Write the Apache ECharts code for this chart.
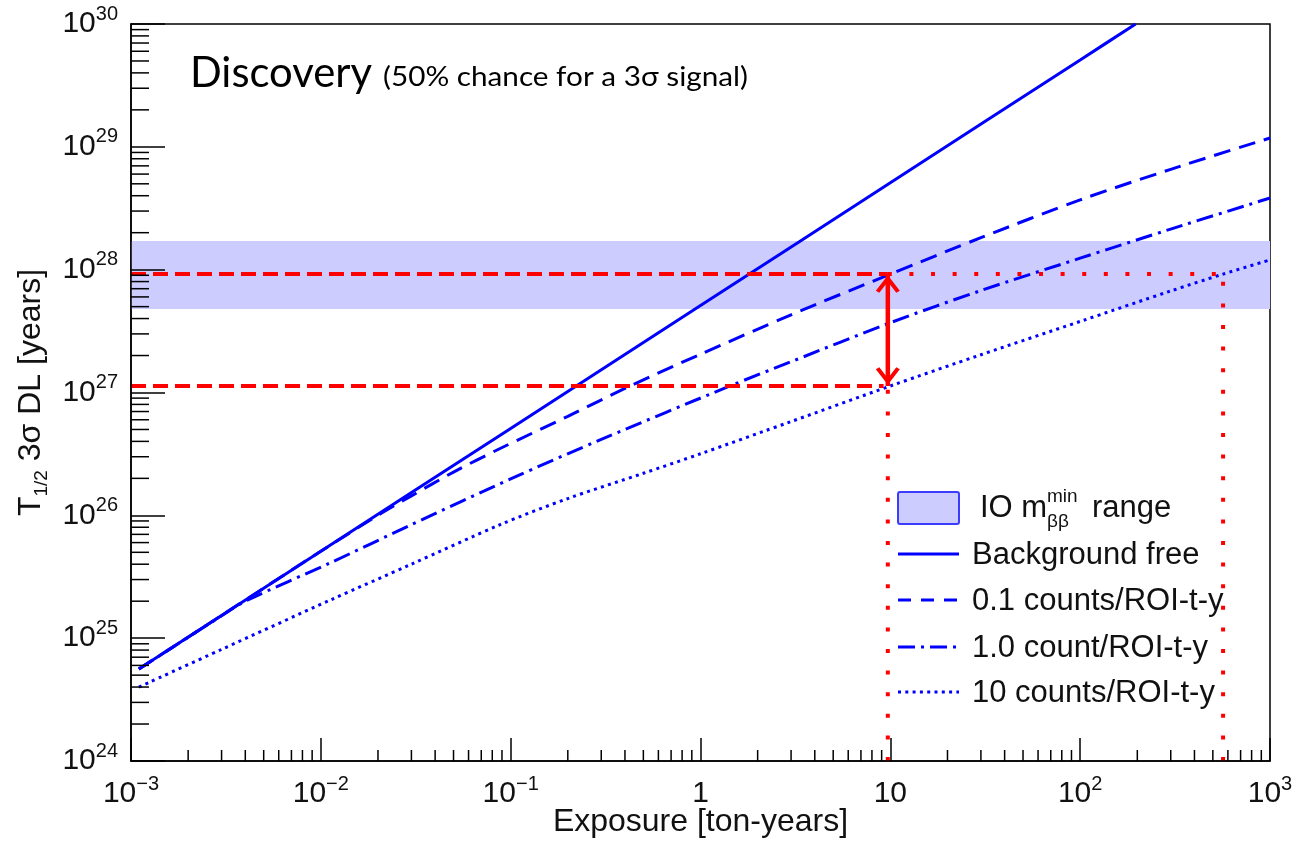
<!DOCTYPE html>
<html><head><meta charset="utf-8">
<script src="https://cdn.jsdelivr.net/npm/echarts@6/dist/echarts.min.js"></script>
<style>html,body{margin:0;padding:0;background:#fff}#c{width:1299px;height:841px}</style>
</head><body><div id="c"></div>
<script>
// ---- axis ticks ----
const xMin = 1e-3, xMax = 1e3, yMin = 1e24, yMax = 1e30;
const xMinorTicks = [];
for (let e = -3; e < 3; e++) for (let k = 2; k <= 9; k++) xMinorTicks.push(k * Math.pow(10, e));
const yMinorTicks = [];
for (let e = 24; e < 30; e++) for (let k = 2; k <= 9; k++) yMinorTicks.push(k * Math.pow(10, e));

// ---- series data ----
const bkgFreeE = [0.0011, 0.01, 0.1, 1, 10, 100, 196];
const bkgFreeT = [5.6e24, 5.1e25, 5.1e26, 5.1e27, 5.1e28, 5.1e29, 1.0e30];

const bkg01E = [0.0011, 0.003, 0.01, 0.02, 0.03, 0.05, 0.088, 0.2, 0.426, 1, 3, 10, 30, 100, 300, 1000];
const bkg01T = [5.6e24, 1.53e25, 5.1e25, 1.0e26, 1.44e26, 2.25e26, 3.5e26, 6.4e26, 1.13e27, 2.05e27, 4.29e27, 9.2e27, 1.82e28, 3.7e28, 6.56e28, 1.18e29];

const bkg1E = [0.0011, 0.003, 0.004, 0.0112, 0.03, 0.1, 0.3, 1.43, 3, 10, 30, 100, 300, 1000];
const bkg1T = [5.6e24, 1.52e25, 2.0e25, 4.1e25, 8.4e25, 1.98e26, 4.15e26, 1.13e27, 1.78e27, 3.7e27, 6.76e27, 1.24e28, 2.14e28, 3.83e28];

const bkg10E = [0.0011, 0.003, 0.0112, 0.03, 0.088, 0.2, 0.5, 1, 3, 10, 30, 100, 300, 566, 1000];
const bkg10T = [4.0e24, 8.1e24, 2.04e25, 4.0e25, 8.4e25, 1.37e26, 2.2e26, 3.17e26, 5.8e26, 1.13e27, 2.03e27, 3.79e27, 6.71e27, 9.2e27, 1.2e28];

const bandLow = 4.78e27, bandHigh = 1.71e28;

// red guide lines
const guideE = 9.7;          // exposure of the arrow
const guideE2 = 566;         // exposure of right vertical
const guideTop = 9.2e27;     // upper horizontal
const guideBottom = 1.13e27; // lower horizontal

const blue = '#0000ff', red = '#ff0000';
const tickFont = 'Liberation Sans';

function zipPts(xs, ys) { return xs.map((x, i) => [x, ys[i]]); }
function expLabel(v) {
  const e = Math.round(Math.log10(v));
  if (e === 0) return '{b|1}';
  if (e === 1) return '{b|10}';
  return '{b|10}{s|' + String(e).replace('-', '\u2212') + '}';
}
const labelRich = {
  b: { fontFamily: tickFont, fontSize: 30, lineHeight: 40, color: '#111' },
  s: { fontFamily: tickFont, fontSize: 20, lineHeight: 20, verticalAlign: 'top', color: '#111' }
};

function measure(text, font) {
  const ctx = document.createElement('canvas').getContext('2d');
  ctx.font = font; return ctx.measureText(text).width;
}
const titleFont = 'Lato';
const tScale = 182 / measure('Discovery', '42px ' + titleFont);
const sText = '(50% chance for a 3\u03c3 signal)';
const sScale = 365 / measure(sText, '26px ' + titleFont);

const chart = echarts.init(document.getElementById('c'), null, { renderer: 'canvas' });

const legendX1 = 898, legendX2 = 959, legendTextX = 972;
const legendItems = [
  { y: 554, text: 'Background free', dash: null },
  { y: 600, text: '0.1 counts/ROI-t-y', dash: [13, 10] },
  { y: 647, text: '1.0 count/ROI-t-y', dash: [17, 6, 3, 6] },
  { y: 692, text: '10 counts/ROI-t-y', dash: [3, 4.3] }
];
const legendFont = 31;
const graphics = [
  { type: 'text', x: 190, y: 73, scaleX: tScale, z: 100,
    style: { text: 'Discovery', fontFamily: titleFont, fontSize: 42, fill: '#000', textVerticalAlign: 'middle', textAlign: 'left' } },
  { type: 'text', x: 383, y: 78, scaleX: sScale, z: 100,
    style: { text: sText, fontFamily: titleFont, fontSize: 26, fill: '#000', textVerticalAlign: 'middle', textAlign: 'left' } },
  { type: 'rect', shape: { x: 898, y: 492, width: 61, height: 32, r: 2 }, z: 100,
    style: { fill: '#ccccff', stroke: '#3c3cff', lineWidth: 2 } },
  { type: 'text', x: 980, y: 508, z: 100, style: { text: 'IO m', fontFamily: tickFont, fontSize: legendFont, fill: '#111', textVerticalAlign: 'middle' } },
  { type: 'text', x: 1047, y: 497, z: 100, style: { text: 'min', fontFamily: tickFont, fontSize: 19, fill: '#111', textVerticalAlign: 'middle' } },
  { type: 'text', x: 1047, y: 522, z: 100, style: { text: '\u03b2\u03b2', fontFamily: tickFont, fontSize: 19, fill: '#111', textVerticalAlign: 'middle' } },
  { type: 'text', x: 1092, y: 508, z: 100, style: { text: 'range', fontFamily: tickFont, fontSize: legendFont, fill: '#111', textVerticalAlign: 'middle' } }
];
legendItems.forEach(it => {
  graphics.push({ type: 'line', z: 100, shape: { x1: legendX1, y1: it.y, x2: legendX2, y2: it.y },
    style: { stroke: blue, lineWidth: 3, lineDash: it.dash || null } });
  graphics.push({ type: 'text', x: legendTextX, y: it.y + 1, z: 100,
    style: { text: it.text, fontFamily: tickFont, fontSize: legendFont, fill: '#111', textVerticalAlign: 'middle' } });
});

function curve(name, xs, ys, dash) {
  return { name, type: 'line', data: zipPts(xs, ys), showSymbol: false, symbol: 'none', smooth: 0.3, z: 3,
    lineStyle: { color: blue, width: 3, type: dash || 'solid', cap: 'butt' }, clip: true, silent: true };
}
function redLine(pts, dash) {
  return { type: 'line', data: pts, showSymbol: false, symbol: 'none', z: 4, clip: false, silent: true,
    lineStyle: { color: red, width: 4, type: dash, cap: 'butt' } };
}
const chevron = 'path://M12,0 L24,18 L20.5,20.5 L12,7.5 L3.5,20.5 L0,18 Z';

const option = {
  animation: false,
  backgroundColor: '#fff',
  grid: { left: 131, top: 24, right: 29, bottom: 80, show: true, borderColor: '#000', borderWidth: 1.5, outerBoundsMode: 'none', z: 0 },
  xAxis: {
    type: 'log', logBase: 10, min: xMin, max: xMax, interval: 1, z: 6,
    axisLine: { show: true, onZero: false, lineStyle: { color: '#000', width: 1.5 } },
    axisTick: { show: true, inside: true, length: 23, lineStyle: { color: '#000', width: 1.5 } },
    splitLine: { show: false }, minorTick: { show: false },
    axisLabel: { margin: 13, formatter: expLabel, rich: labelRich, showMinLabel: true, showMaxLabel: true, hideOverlap: false },
    name: 'Exposure [ton-years]', nameLocation: 'middle', nameGap: 45, nameMoveOverlap: false,
    nameTextStyle: { fontFamily: tickFont, fontSize: 32, color: '#111' }
  },
  yAxis: {
    type: 'log', logBase: 10, min: yMin, max: yMax, interval: 1, z: 6,
    axisLine: { show: true, onZero: false, lineStyle: { color: '#000', width: 1.5 } },
    axisTick: { show: true, inside: true, length: 34, lineStyle: { color: '#000', width: 1.5 } },
    splitLine: { show: false }, minorTick: { show: false },
    axisLabel: { margin: 13, formatter: expLabel, rich: labelRich, showMinLabel: true, showMaxLabel: true, hideOverlap: false },
    name: '{a|T}{sub|1/2}{a| 3\u03c3 DL [years]}', nameLocation: 'middle', nameRotate: 90, nameGap: 80,
    nameTextStyle: { rich: {
      a: { fontFamily: tickFont, fontSize: 32, color: '#111', lineHeight: 40 },
      sub: { fontFamily: tickFont, fontSize: 19, color: '#111', verticalAlign: 'bottom', lineHeight: 19 }
    } }
  },
  graphic: graphics,
  series: [
    { type: 'line', data: [[xMin, bandLow]], showSymbol: false, symbol: 'none', z: 1, silent: true,
      lineStyle: { opacity: 0 },
      markArea: { silent: true, itemStyle: { color: '#ccccff', opacity: 1 }, data: [[{ yAxis: bandLow }, { yAxis: bandHigh }]] } },
    curve('Background free', bkgFreeE, bkgFreeT, 'solid'),
    curve('0.1 counts/ROI-t-y', bkg01E, bkg01T, [17, 9]),
    curve('1.0 count/ROI-t-y', bkg1E, bkg1T, [17, 6, 3, 6]),
    curve('10 counts/ROI-t-y', bkg10E, bkg10T, [3, 4.3]),
    redLine([[xMin, guideTop], [guideE, guideTop]], [15, 7]),
    redLine([[guideE, guideTop], [guideE2, guideTop]], [4, 17.6]),
    redLine([[xMin, guideBottom], [guideE * 0.95, guideBottom]], [15, 7]),
    redLine([[guideE, yMin], [guideE, guideBottom]], [4, 17.6]),
    redLine([[guideE2, yMin], [guideE2, guideTop]], [4, 17.6]),
    { type: 'line', z: 5, silent: true, clip: false,
      data: [
        { value: [guideE, guideTop], symbolRotate: 0, symbolOffset: [0, 10] },
        { value: [guideE, guideBottom], symbolRotate: 180, symbolOffset: [0, -10] }
      ],
      symbol: chevron, symbolSize: [24, 20.5], symbolKeepAspect: true, showSymbol: true,
      itemStyle: { color: red }, lineStyle: { color: red, width: 4.5 } },
    { type: 'custom', z: 6, silent: true, clip: false, data: xMinorTicks.map(v => [v, yMin]),
      renderItem: (params, api) => {
        const p = api.coord([api.value(0), yMin]);
        return { type: 'line', shape: { x1: p[0], y1: p[1], x2: p[0], y2: p[1] - 11 }, style: { stroke: '#000', lineWidth: 1.5 } };
      } },
    { type: 'custom', z: 6, silent: true, clip: false, data: yMinorTicks.map(v => [xMin, v]),
      renderItem: (params, api) => {
        const p = api.coord([xMin, api.value(1)]);
        return { type: 'line', shape: { x1: p[0], y1: p[1], x2: p[0] + 18, y2: p[1] }, style: { stroke: '#000', lineWidth: 1.5 } };
      } }
  ]
};
chart.setOption(option);
</script></body></html>
